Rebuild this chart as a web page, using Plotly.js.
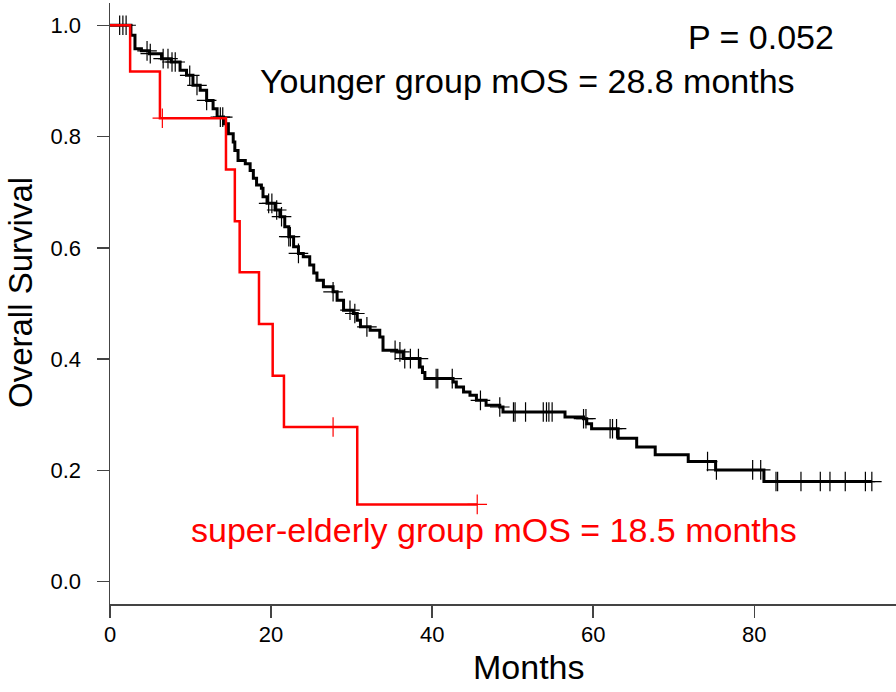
<!DOCTYPE html>
<html>
<head>
<meta charset="utf-8">
<script src="https://cdn.plot.ly/plotly-3.0.1.min.js"></script>
<style>html,body{margin:0;padding:0;background:#fff;}#chart{width:896px;height:692px;}</style>
</head>
<body>
<div id="chart"></div>
<script>
// Younger group (black) Kaplan-Meier steps
const youngTimes = [0, 2.6, 3.1, 3.9, 4.9, 6.4, 7.6, 8.7, 9.5, 10.3, 11.2, 12.0, 12.8, 13.3, 14.1, 14.7, 15.3, 15.5, 15.9, 16.8, 17.4, 17.8, 18.2, 18.8, 19.0, 19.5, 20.5, 21.1, 21.7, 22.2, 22.8, 23.4, 24.0, 24.8, 25.3, 25.7, 26.5, 27.7, 28.2, 29.0, 30.2, 30.7, 31.1, 32.3, 33.5, 33.9, 35.6, 36.4, 38.5, 38.8, 39.1, 42.6, 43.0, 43.9, 44.7, 45.5, 46.7, 48.4, 48.8, 56.5, 58.8, 59.2, 59.8, 63.1, 65.4, 67.7, 71.8, 75.2, 81.2, 94.6];
const youngSurv = [1.0, 0.982, 0.958, 0.954, 0.949, 0.940, 0.934, 0.919, 0.910, 0.892, 0.883, 0.865, 0.850, 0.835, 0.823, 0.805, 0.790, 0.775, 0.757, 0.751, 0.739, 0.725, 0.713, 0.707, 0.692, 0.680, 0.668, 0.656, 0.638, 0.620, 0.602, 0.590, 0.584, 0.569, 0.555, 0.542, 0.530, 0.521, 0.506, 0.488, 0.482, 0.470, 0.458, 0.452, 0.440, 0.416, 0.413, 0.401, 0.386, 0.376, 0.365, 0.359, 0.350, 0.341, 0.335, 0.326, 0.317, 0.314, 0.305, 0.296, 0.293, 0.284, 0.275, 0.258, 0.242, 0.228, 0.216, 0.201, 0.180, 0.180];
const youngCensor = [1.2, 1.6, 2.0, 4.6, 5.0, 6.6, 7.2, 7.7, 8.1, 9.9, 10.8, 12.0, 13.7, 14.0, 19.7, 20.1, 20.7, 21.3, 22.2, 22.4, 23.4, 27.7, 29.8, 30.4, 31.9, 35.4, 36.0, 36.6, 37.3, 38.3, 40.5, 40.7, 42.5, 46.0, 48.4, 50.1, 50.3, 51.6, 53.8, 54.2, 54.5, 54.9, 58.8, 59.1, 62.1, 62.4, 62.9, 74.2, 75.3, 79.8, 80.8, 82.7, 82.9, 85.8, 88.2, 89.4, 91.3, 93.8, 94.6];

// Super-elderly group (red)
const elderTimes = [0, 2.5, 6.2, 14.4, 15.5, 16.1, 18.5, 20.2, 21.6, 30.7, 45.6];
const elderSurv = [1.0, 0.917, 0.833, 0.741, 0.648, 0.556, 0.463, 0.370, 0.278, 0.139, 0.139];
const elderCensor = [6.5, 27.7, 45.6];

const xTicks = [0, 20, 40, 60, 80];
const yTicks = [0, 0.2, 0.4, 0.6, 0.8, 1.0];
const yTickText = ['0.0', '0.2', '0.4', '0.6', '0.8', '1.0'];

function survAt(T, S, t) {
  let v = S[0];
  for (let i = 0; i < T.length; i++) { if (T[i] <= t) v = S[i]; }
  return v;
}

const traces = [
  {x: youngTimes, y: youngSurv, mode: 'lines', line: {shape: 'hv', color: '#000', width: 3}, hoverinfo: 'skip', showlegend: false},
  {x: youngCensor, y: youngCensor.map(t => survAt(youngTimes, youngSurv, t)), mode: 'markers',
   marker: {symbol: 'cross-thin', size: 14, line: {color: '#000', width: 1.2}}, showlegend: false},
  {x: elderTimes, y: elderSurv, mode: 'lines', line: {shape: 'hv', color: '#ff0000', width: 2.5}, showlegend: false},
  {x: elderCensor, y: elderCensor.map(t => survAt(elderTimes, elderSurv, t)), mode: 'markers',
   marker: {symbol: 'cross-thin', size: 14, line: {color: '#ff0000', width: 1.2}}, showlegend: false}
];

const font = 'Liberation Sans, Arial, sans-serif';

// plot area: x 110..896, y 3..604
const PL = 110, PR = 896, PT = 3, PB = 604;
const px = v => (v - PL) / (PR - PL);
const py = v => (PB - v) / (PB - PT);

const layout = {
  width: 896, height: 692,
  margin: {l: PL, r: 896 - PR, t: PT, b: 692 - PB},
  paper_bgcolor: '#fff', plot_bgcolor: '#fff',
  xaxis: {
    range: [0, 97.6], tickvals: xTicks, ticks: 'outside', ticklen: 12, tickwidth: 1.5, tickcolor: '#444',
    showline: true, linecolor: '#444', linewidth: 1.5, showgrid: false, zeroline: false,
    tickfont: {family: font, size: 22, color: '#000'}, ticklabelstandoff: -2
  },
  yaxis: {
    range: [-0.04, 1.04], tickvals: yTicks, ticktext: yTickText, ticks: 'outside', ticklen: 12, tickwidth: 1.5, tickcolor: '#444',
    showline: true, linecolor: '#444', linewidth: 1.5, showgrid: false, zeroline: false,
    tickfont: {family: font, size: 22, color: '#000'}, ticklabelstandoff: 11
  },
  annotations: [
    {text: 'Months', xref: 'paper', yref: 'paper', x: px(529), y: py(667), xanchor: 'center', yanchor: 'middle', showarrow: false, font: {family: font, size: 34, color: '#000'}},
    {text: 'Overall Survival', xref: 'paper', yref: 'paper', x: px(20), y: py(293), xanchor: 'center', yanchor: 'middle', textangle: -90, showarrow: false, font: {family: font, size: 33, color: '#000'}},
    {text: 'P = 0.052', xref: 'paper', yref: 'paper', x: px(761), y: py(37), xanchor: 'center', yanchor: 'middle', showarrow: false, font: {family: font, size: 34, color: '#000'}},
    {text: 'Younger group mOS = 28.8 months', xref: 'paper', yref: 'paper', x: px(527), y: py(81), xanchor: 'center', yanchor: 'middle', showarrow: false, font: {family: font, size: 34, color: '#000'}},
    {text: 'super-elderly group mOS = 18.5 months', xref: 'paper', yref: 'paper', x: px(494), y: py(530), xanchor: 'center', yanchor: 'middle', showarrow: false, font: {family: font, size: 34, color: '#ff0000'}}
  ]
};

Plotly.newPlot('chart', traces, layout, {displayModeBar: false, staticPlot: true});
</script>
</body>
</html>
